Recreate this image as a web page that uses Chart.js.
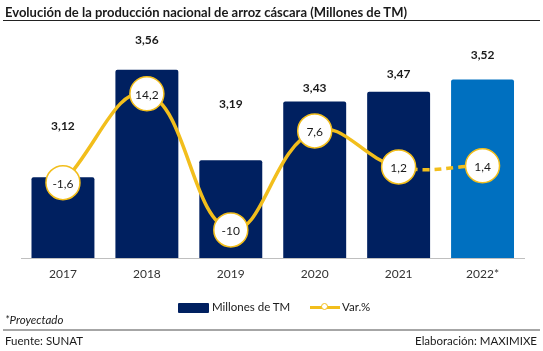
<!DOCTYPE html>
<html>
<head>
<meta charset="utf-8">
<script src="https://cdn.jsdelivr.net/npm/chart.js@4.4.1/dist/chart.umd.min.js"></script>
<style>
  html, body { margin:0; padding:0; background:#fff; }
  #wrap { position:relative; width:543px; height:351px; overflow:hidden; font-family: Lato, "Liberation Sans", sans-serif; color:#1a1a1a; }
  #c { position:absolute; left:0; top:0; }
  .t { position:absolute; white-space:nowrap; }
  #title { left:5px; top:4px; font-size:13px; font-weight:bold; color:#1a1a1a; }
  #rule1 { position:absolute; left:3px; top:20px; width:537px; height:1px; background:#222; }
  #rule2 { position:absolute; left:3px; top:329px; width:537px; height:2px; background:#a6a6a6; }
  #proj { left:5px; top:313px; font-size:11.5px; font-style:italic; }
  #fuente { left:5px; top:334px; font-size:11.5px; }
  #elab { right:6px; top:334px; font-size:11.5px; }
  #legend { position:absolute; left:178px; top:301px; height:14px; font-size:11.5px; }
  .lg { position:absolute; top:0; white-space:nowrap; }
</style>
</head>
<body>
<div id="wrap">
  <canvas id="c" width="543" height="351"></canvas>
  <div class="t" id="title">Evolución de la producción nacional de arroz cáscara (Millones de TM)</div>
  <div id="rule1"></div>
  <div id="legend">
    <div class="lg" style="left:0;top:2px;width:31px;height:10px;background:#002060;border-radius:1px"></div>
    <div class="lg" style="left:34px;top:-1px" id="lg1"></div>
    <div class="lg" style="left:132px;top:5px;width:30px;height:3px;background:#F2BE1C"></div>
    <div class="lg" style="left:143px;top:2px;width:7px;height:7px;border-radius:50%;background:#fff;border:1px solid #F2BE1C;box-sizing:border-box"></div>
    <div class="lg" style="left:164px;top:-1px" id="lg2"></div>
  </div>
  <div class="t" id="proj">*Proyectado</div>
  <div id="rule2"></div>
  <div class="t" id="fuente">Fuente: SUNAT</div>
  <div class="t" id="elab">Elaboración: MAXIMIXE</div>
</div>
<script>
const categories = ["2017", "2018", "2019", "2020", "2021", "2022*"];
const produccion = [3.12, 3.56, 3.19, 3.43, 3.47, 3.52];
const variacion = [-1.6, 14.2, -10, 7.6, 1.2, 1.4];
const seriesNames = ["Millones de TM", "Var.%"];

document.getElementById('lg1').textContent = seriesNames[0];
document.getElementById('lg2').textContent = seriesNames[1];

const NAVY = '#002060', BLUE = '#0070C0', GOLD = '#F2BE1C';
const FONT = 'Lato, "Liberation Sans", sans-serif';

function fmt(v, d) {
  const s = Number.isInteger(v) && d === 1 ? String(v) : v.toFixed(d);
  return s.replace('.', ',');
}

const labelPlugin = {
  id: 'valueLabels',
  afterDatasetsDraw(chart, args, opts) {
    const ctx = chart.ctx;
    ctx.save();
    ctx.textAlign = 'center';
    ctx.textBaseline = 'middle';
    // bar labels
    const barMeta = chart.getDatasetMeta(0);
    ctx.font = 'bold 12px ' + FONT;
    ctx.fillStyle = '#1a1a1a';
    barMeta.data.forEach((el, i) => {
      ctx.fillText(fmt(produccion[i], 2), el.x, el.y - opts.barOffsets[i]);
    });
    // point labels
    const lineMeta = chart.getDatasetMeta(1);
    ctx.font = '12px ' + FONT;
    ctx.fillStyle = '#1a1a1a';
    lineMeta.data.forEach((el, i) => {
      ctx.fillText(fmt(variacion[i], 1), el.x, el.y + 1);
    });
    ctx.restore();
  }
};

new Chart(document.getElementById('c'), {
  data: {
    labels: categories,
    datasets: [
      {
        type: 'bar',
        label: seriesNames[0],
        data: produccion,
        yAxisID: 'y',
        backgroundColor: categories.map((c, i) => i === categories.length - 1 ? BLUE : NAVY),
        borderRadius: 2,
        borderSkipped: 'bottom',
        categoryPercentage: 0.75,
        barPercentage: 1,
        order: 2
      },
      {
        type: 'line',
        label: seriesNames[1],
        data: variacion,
        yAxisID: 'y2',
        borderColor: GOLD,
        borderWidth: 3.5,
        tension: 0.42,
        pointRadius: 17,
        pointHoverRadius: 17,
        pointBackgroundColor: '#fff',
        pointBorderColor: GOLD,
        pointBorderWidth: 1.5,
        segment: {
          borderDash: c => c.p0DataIndex === categories.length - 2 ? [7, 5] : undefined
        },
        order: 1
      }
    ]
  },
  options: {
    responsive: false,
    animation: false,
    layout: { padding: { left: 21, right: 16, top: 33, bottom: 73 } },
    plugins: {
      legend: { display: false },
      tooltip: { enabled: false },
      valueLabels: { barOffsets: [51, 30, 56, 13, 18, 24] }
    },
    scales: {
      x: {
        grid: { display: false, drawTicks: false },
        border: { display: true, color: '#BFBFBF', width: 1 },
        ticks: { color: '#333', font: { family: FONT, size: 12 }, padding: 9 },
        afterFit: s => { s.height = 20; }
      },
      y: { display: false, min: 2.79, max: 3.71 },
      y2: { display: false, min: -15, max: 25 }
    }
  },
  plugins: [labelPlugin]
});
</script>
</body>
</html>
